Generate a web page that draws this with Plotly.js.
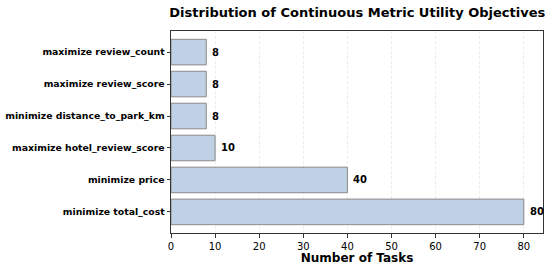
<!DOCTYPE html>
<html><head><meta charset="utf-8">
<script src="https://cdn.plot.ly/plotly-3.0.1.min.js"></script>
<style>html,body{margin:0;padding:0;background:#fff}#chart{width:548px;height:268px}</style>
</head><body><div id="chart"></div>
<script>
const categories = ["minimize total_cost","minimize price","maximize hotel_review_score","minimize distance_to_park_km","maximize review_score","maximize review_count"];
const counts = [80, 40, 10, 8, 8, 8];
const xTicks = [0,10,20,30,40,50,60,70,80];

const trace = {
  type: 'bar', orientation: 'h',
  y: categories, x: counts,
  width: 0.8,
  marker: {color: 'rgba(176,196,222,0.8)', line: {color: '#8a8a8a', width: 1}},
  hoverinfo: 'none'
};
const annotations = categories.map((c, i) => ({
  x: counts[i], y: c, xref: 'x', yref: 'y', text: '<b>' + counts[i] + '</b>',
  showarrow: false, xanchor: 'left', yanchor: 'middle', xshift: 4,
  font: {family: 'DejaVu Sans', size: 10, color: '#000'}
}));
const layout = {
  width: 548, height: 268,
  margin: {l: 171, r: 5, t: 31, b: 35},
  paper_bgcolor: '#fff', plot_bgcolor: '#fff',
  showlegend: false,
  annotations: annotations,
  title: {text: '<b>Distribution of Continuous Metric Utility Objectives</b>', x: 0.652, xanchor: 'center', y: 0.952, yanchor: 'middle',
    font: {family: 'DejaVu Sans', size: 13, color: '#000'}},
  xaxis: {range: [0, 84.35], tickvals: xTicks, ticktext: xTicks.map(String), ticks: 'outside', ticklen: 3.5, tickcolor: '#333',
    tickfont: {family: 'DejaVu Sans', size: 10, color: '#000'},
    showgrid: true, gridcolor: '#e8e8e8', griddash: '3px,2px', gridwidth: 0.8,
    showline: true, linecolor: '#333', linewidth: 1, mirror: true, zeroline: false,
    title: {text: '<b>Number of Tasks</b>', font: {family: 'DejaVu Sans', size: 12, color: '#000'}, standoff: 1}},
  yaxis: {type: 'category', range: [-0.66, 5.66], ticks: 'outside', ticklen: 3.5, tickcolor: '#333',
    tickfont: {family: 'DejaVu Sans', size: 9.3, color: '#000', weight: 'bold'},
    showgrid: false, showline: true, linecolor: '#333', linewidth: 1, mirror: true, zeroline: false}
};
Plotly.newPlot('chart', [trace], layout, {displayModeBar: false, staticPlot: true});
</script></body></html>
